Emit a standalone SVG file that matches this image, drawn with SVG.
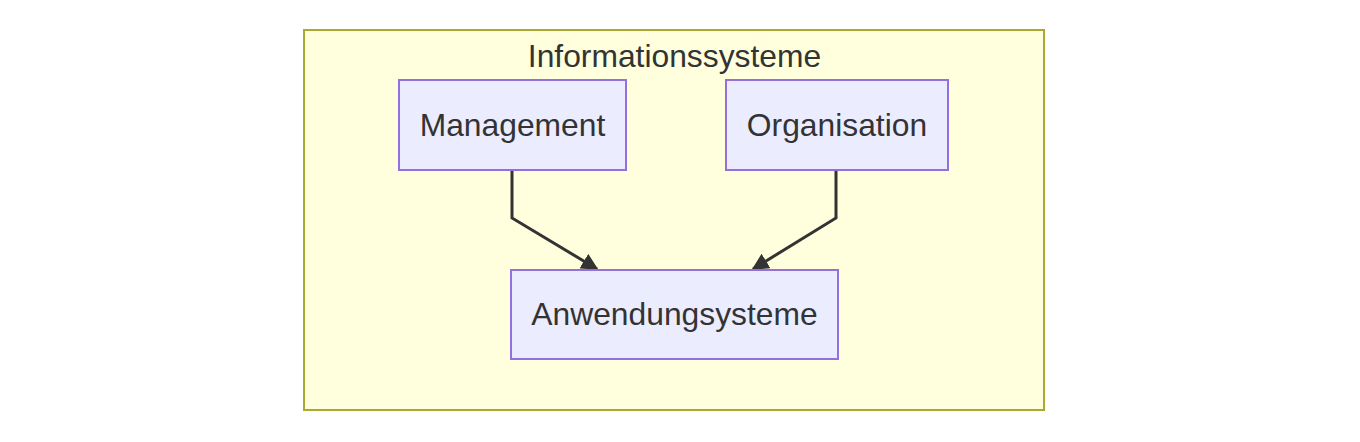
<svg xmlns="http://www.w3.org/2000/svg" width="1360" height="442" viewBox="0 0 1360 442">
<style>
.cluster{fill:#ffffde;stroke:#aaaa33;stroke-width:2}
.node rect{fill:#ececff;stroke:#9370db;stroke-width:2}
text{font-family:"Liberation Sans",Arial,sans-serif;font-size:31.8px;fill:#333333;text-anchor:middle}
.edge{fill:none;stroke:#333333;stroke-width:3}
</style>
<defs>
<marker id="arrow" viewBox="0 0 10 10" refX="9" refY="5" markerUnits="userSpaceOnUse" markerWidth="17" markerHeight="17" orient="auto">
<path d="M0,0 L10,5 L0,10 z" fill="#333333"/>
</marker>
</defs>
<rect width="1360" height="442" fill="#ffffff"/>
<g id="cluster-informationssysteme">
<rect class="cluster" x="304" y="30" width="740" height="380"/>
<text x="674.5" y="67">Informationssysteme</text>
</g>
<g id="connectors">
<path class="edge" d="M512,170 L512,218 L597,269" marker-end="url(#arrow)"/>
<path class="edge" d="M836,170 L836,218 L753,269" marker-end="url(#arrow)"/>
</g>
<g id="node-management" class="node">
<rect x="399" y="80" width="227" height="90"/>
<text x="512.5" y="136">Management</text>
</g>
<g id="node-organisation" class="node">
<rect x="726" y="80" width="222" height="90"/>
<text x="837" y="136">Organisation</text>
</g>
<g id="node-anwendungssysteme" class="node">
<rect x="511" y="270" width="327" height="89"/>
<text x="674.5" y="325">Anwendungsysteme</text>
</g>
</svg>
